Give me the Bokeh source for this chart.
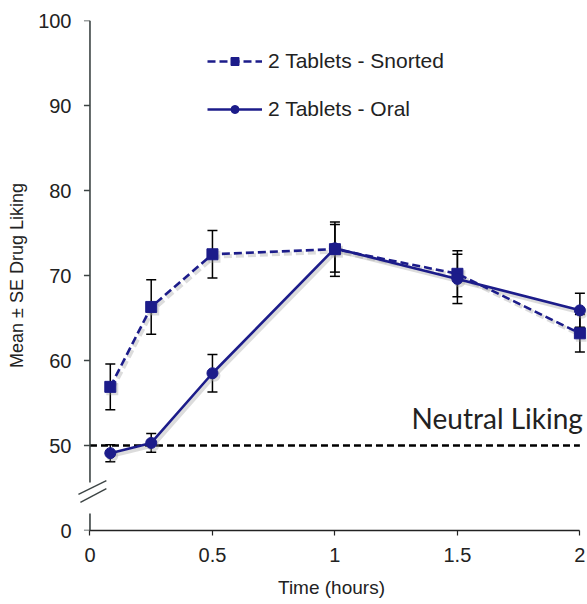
from bokeh.plotting import figure
from bokeh.models import (ColumnDataSource, Whisker, TeeHead, Legend, LegendItem,
                          Label, Arrow, FixedTicker, Range1d)
from bokeh.embed import file_html
from bokeh.resources import INLINE

# Drug liking over time, mean and standard error per route
TIME_H = [0.083, 0.25, 0.5, 1.0, 1.5, 2.0]
SNORTED_MEAN = [56.9, 66.3, 72.5, 73.1, 70.2, 63.2]
SNORTED_SE = [2.7, 3.2, 2.8, 3.2, 2.7, 2.2]
ORAL_MEAN = [49.1, 50.3, 58.5, 73.2, 69.6, 65.9]
ORAL_SE = [1.0, 1.1, 2.2, 2.8, 2.9, 2.0]
SERIES_NAMES = ["2 Tablets - Snorted", "2 Tablets - Oral"]

NEUTRAL = 50
NEUTRAL_TEXT = "Neutral Liking"
X_TICKS = [0, 0.5, 1, 1.5, 2]
X_TICK_LABELS = ["0", "0.5", "1", "1.5", "2"]
Y_TICKS = [50, 60, 70, 80, 90, 100]
# the value axis is broken below 50; the bottom of the frame carries the "0" label
Y_FLOOR = 40
Y_FLOOR_LABEL = "0"
Y_TITLE = "Mean \u00b1 SE Drug Liking"
X_TITLE = "Time (hours)"

BLUE = "#1c1c8a"
SHADOW = "#9a9a9a"
AXIS = "#3c4444"
TEXT = "#222222"
FONT = "Liberation Sans"

# frame scale: ~244.7 px per hour, 8.5 px per liking point
X_START, X_END = -0.055, 2.027
Y_END = 100
PX_X = 1 / 244.7
PX_Y = 1 / 8.5

p = figure(width=587, height=604, output_backend="svg", toolbar_location=None,
           x_range=Range1d(X_START, X_END), y_range=Range1d(Y_FLOOR, Y_END),
           min_border_left=76, min_border_right=1, min_border_top=20,
           min_border_bottom=74)
p.outline_line_color = None
p.grid.visible = False
p.background_fill_color = "white"
p.border_fill_color = "white"

# ranges shifted a couple of pixels for the soft drop shadow under the series
p.extra_x_ranges = {"shadow": Range1d(X_START - 2 * PX_X, X_END - 2 * PX_X)}
p.extra_y_ranges = {"shadow": Range1d(Y_FLOOR + 2.5 * PX_Y, Y_END + 2.5 * PX_Y)}

# x axis
xa = p.xaxis[0]
xa.ticker = FixedTicker(ticks=X_TICKS)
xa.major_label_overrides = {t: s for t, s in zip(X_TICKS, X_TICK_LABELS)}
xa.bounds = (X_TICKS[0], X_TICKS[-1])
xa.axis_label = X_TITLE
xa.axis_line_color = "#222222"
xa.axis_line_width = 1.5
xa.major_tick_line_color = "#222222"
xa.major_tick_line_width = 1.2
xa.major_tick_out = 5
xa.major_tick_in = 0
xa.minor_tick_line_color = None
xa.major_label_standoff = 12
xa.axis_label_standoff = 12
xa.major_label_text_font = FONT
xa.major_label_text_font_size = "20px"
xa.major_label_text_color = TEXT
xa.axis_label_text_font = FONT
xa.axis_label_text_font_size = "19px"
xa.axis_label_text_font_style = "normal"
xa.axis_label_text_color = TEXT

# y axis: labels and title come from the axis; line and ticks are drawn at x = 0
ya = p.yaxis[0]
ya.ticker = FixedTicker(ticks=[Y_FLOOR] + Y_TICKS)
ya.major_label_overrides = {Y_FLOOR: Y_FLOOR_LABEL}
ya.axis_label = Y_TITLE
ya.axis_line_color = None
ya.major_tick_line_color = None
ya.major_tick_out = 0
ya.major_tick_in = 0
ya.minor_tick_line_color = None
ya.major_label_standoff = 5
ya.axis_label_standoff = 8
ya.major_label_text_font = FONT
ya.major_label_text_font_size = "20px"
ya.major_label_text_color = TEXT
ya.axis_label_text_font = FONT
ya.axis_label_text_font_size = "18px"
ya.axis_label_text_font_style = "normal"
ya.axis_label_text_color = TEXT

all_y_ticks = [Y_FLOOR] + Y_TICKS
p.segment(x0=[-6 * PX_X] * len(all_y_ticks), y0=all_y_ticks,
          x1=[0] * len(all_y_ticks), y1=all_y_ticks, line_color=AXIS, line_width=1.5)
# broken axis line
for y0, y1 in [(45.65, Y_END), (Y_FLOOR, 42.0)]:
    p.add_layout(Arrow(start=None, end=None, x_start=0, y_start=y0, x_end=0, y_end=y1,
                       line_color=AXIS, line_width=1.6))
# break marks
for (xs, ys, xe, ye) in [(-0.047, 44.24, 0.067, 45.88), (-0.039, 43.3, 0.067, 44.94)]:
    p.add_layout(Arrow(start=None, end=None, x_start=xs, y_start=ys, x_end=xe, y_end=ye,
                       line_color=AXIS, line_width=1.4))

# neutral reference line
p.line(x=[X_TICKS[0], X_TICKS[-1]], y=[NEUTRAL, NEUTRAL], line_color="black",
       line_width=2.5, line_dash="7 4")
p.add_layout(Label(x=X_TICKS[-1], y=NEUTRAL, x_offset=3, y_offset=28, text=NEUTRAL_TEXT,
                   text_align="right", text_baseline="alphabetic", text_font="Lato",
                   text_font_size="28px", text_color=TEXT))

snort = ColumnDataSource(dict(
    x=TIME_H, y=SNORTED_MEAN,
    upper=[m + s for m, s in zip(SNORTED_MEAN, SNORTED_SE)],
    lower=[m - s for m, s in zip(SNORTED_MEAN, SNORTED_SE)]))
oral = ColumnDataSource(dict(
    x=TIME_H, y=ORAL_MEAN,
    upper=[m + s for m, s in zip(ORAL_MEAN, ORAL_SE)],
    lower=[m - s for m, s in zip(ORAL_MEAN, ORAL_SE)]))

for src in (snort, oral):
    w = Whisker(source=src, base="x", upper="upper", lower="lower", dimension="height",
                line_color="black", line_width=1.5, level="underlay",
                upper_head=TeeHead(size=10, line_color="black", line_width=1.5),
                lower_head=TeeHead(size=10, line_color="black", line_width=1.5))
    p.add_layout(w)

# drop shadows
for src, dash, marker in [(snort, "8 4", "square"), (oral, "solid", "circle")]:
    p.line("x", "y", source=src, line_color=SHADOW, line_alpha=0.35, line_width=4,
           line_dash=dash, x_range_name="shadow", y_range_name="shadow")
    p.scatter("x", "y", source=src, marker=marker, size=12, fill_color=SHADOW,
              fill_alpha=0.35, line_color=None, x_range_name="shadow",
              y_range_name="shadow")

s_line = p.line("x", "y", source=snort, line_color=BLUE, line_width=2.6, line_dash="8 4")
o_line = p.line("x", "y", source=oral, line_color=BLUE, line_width=2.6)
s_pts = p.scatter("x", "y", source=snort, marker="square", size=11,
                  fill_color=BLUE, line_color=BLUE)
o_pts = p.scatter("x", "y", source=oral, marker="circle", size=11,
                  fill_color=BLUE, line_color=BLUE)

legend = Legend(items=[LegendItem(label=SERIES_NAMES[0], renderers=[s_line, s_pts]),
                       LegendItem(label=SERIES_NAMES[1], renderers=[o_line, o_pts])],
                location=(131, 409), orientation="vertical",
                glyph_width=55, glyph_height=20, label_height=20, spacing=24,
                label_standoff=6, padding=0, margin=0,
                border_line_color=None, background_fill_alpha=0,
                label_text_font=FONT, label_text_font_size="21px",
                label_text_color=TEXT)
p.add_layout(legend)

open("out.html", "w").write(file_html(p, INLINE))
